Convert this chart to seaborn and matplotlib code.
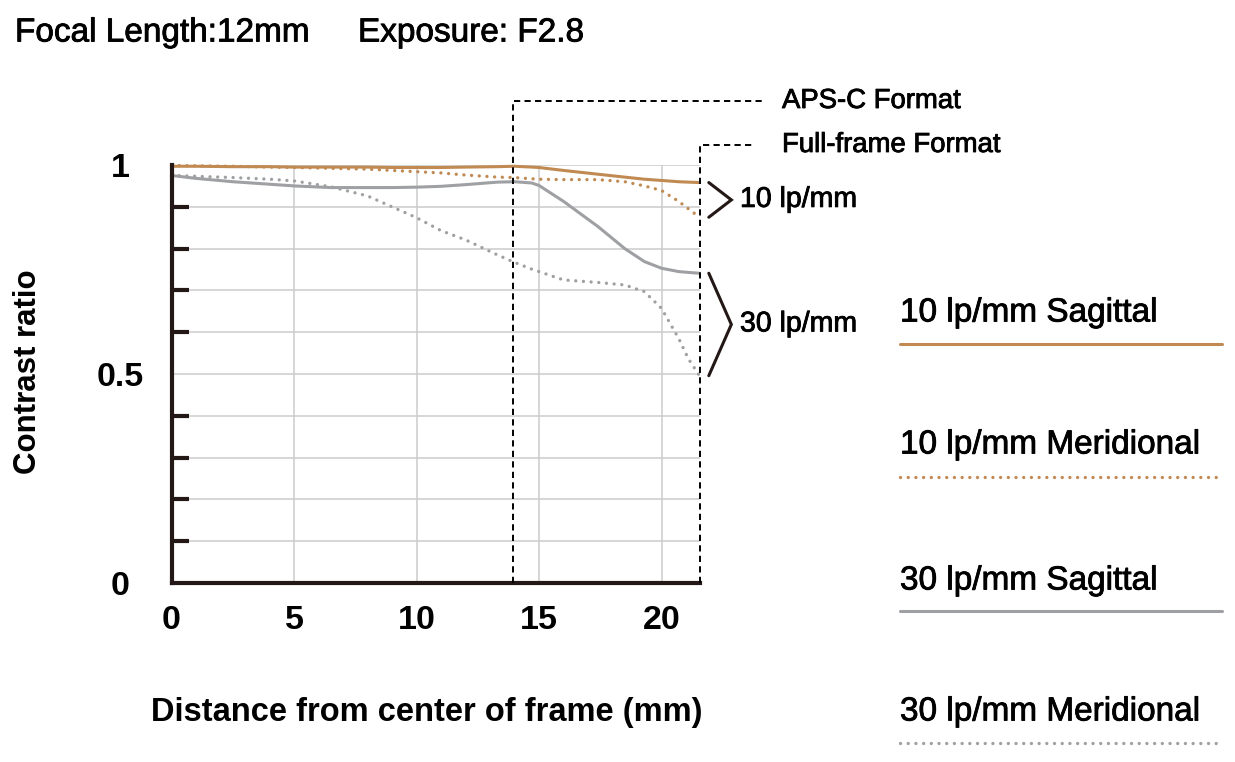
import numpy as np
import pandas as pd
import matplotlib
matplotlib.use("Agg")
import matplotlib.pyplot as plt
import matplotlib.patheffects as pe
from matplotlib.ticker import MultipleLocator
import seaborn as sns

#%% Data (distance from center in mm, contrast)
dist_mm = [0, 1, 2.5, 4, 5, 6.5, 8, 9, 10, 11, 12, 13.3, 14, 14.7, 15, 16,
           17.4, 18.5, 19.3, 20, 20.7, 21.1, 21.55]
s10 = [0.997, 0.997, 0.996, 0.996, 0.995, 0.995, 0.995, 0.994, 0.994, 0.994,
       0.995, 0.996, 0.997, 0.995, 0.994, 0.987, 0.978, 0.971, 0.966, 0.963,
       0.960, 0.959, 0.958]
m10 = [0.999, 0.998, 0.997, 0.995, 0.994, 0.992, 0.990, 0.987, 0.984, 0.981,
       0.976, 0.971, 0.970, 0.967, 0.966, 0.965, 0.965, 0.960, 0.950, 0.939,
       0.913, 0.895, 0.875]
s30 = [0.975, 0.968, 0.960, 0.954, 0.950, 0.946, 0.946, 0.946, 0.947, 0.949,
       0.953, 0.959, 0.960, 0.957, 0.951, 0.913, 0.853, 0.800, 0.769, 0.753,
       0.745, 0.743, 0.741]
m30 = [0.975, 0.973, 0.970, 0.966, 0.962, 0.948, 0.926, 0.900, 0.874, 0.843,
       0.821, 0.785, 0.767, 0.751, 0.745, 0.725, 0.719, 0.713, 0.697, 0.657,
       0.585, 0.536, 0.496]

series_names = ['10 lp/mm Sagittal', '10 lp/mm Meridional',
                '30 lp/mm Sagittal', '30 lp/mm Meridional']
x_ticks = [0, 5, 10, 15, 20]
y_ticks = [0, 0.5, 1]
y_tick_labels = ['0', '0.5', '1']
apsc_mm = 13.95
ff_mm = 21.55

#%% Styles
c_orange = '#c08a52'
c_gray = '#9fa0a3'
c_dark = '#231815'
dot = (0.01, 2.3)
medium = [pe.withStroke(linewidth=0.6, foreground='black')]

df = pd.DataFrame({
    'dist': dist_mm * 4,
    'contrast': s10 + m10 + s30 + m30,
    'freq': ['10'] * len(dist_mm) * 2 + ['30'] * len(dist_mm) * 2,
    'dir': (['Sagittal'] * len(dist_mm) + ['Meridional'] * len(dist_mm)) * 2,
})

sns.set_theme(style="white")
plt.rcParams['font.family'] = ['Liberation Sans', 'DejaVu Sans']
plt.rcParams['text.color'] = 'black'
plt.rcParams['axes.labelcolor'] = 'black'

W, H = 1235, 762
fig = plt.figure(figsize=(W / 100, H / 100), dpi=100)
ax_l, ax_r, ax_t, ax_b = 171.5, 699.5, 165, 583
ax = fig.add_axes([ax_l / W, 1 - ax_b / H, (ax_r - ax_l) / W, (ax_b - ax_t) / H])

sns.lineplot(data=df, x='dist', y='contrast', hue='freq', style='dir',
             palette={'10': c_orange, '30': c_gray},
             dashes={'Sagittal': '', 'Meridional': dot},
             lw=2.4, legend=False, errorbar=None, ax=ax, zorder=3)
for ln in ax.lines:
    ln.set_dash_capstyle('round')
    ln.set_clip_on(False)
    if ln.get_linestyle() == '-':
        ln.set_linewidth(2.2)

ax.set_xlim(0, ff_mm)
ax.set_ylim(0, 1)
ax.set_xticks(x_ticks)
ax.set_xticklabels([str(t) for t in x_ticks])
ax.set_yticks(y_ticks)
ax.set_yticklabels(y_tick_labels)
ax.yaxis.set_minor_locator(MultipleLocator(0.1))
ax.set_axisbelow(True)
ax.grid(True, which='both', axis='y', color='#cccccc', lw=1.1)
ax.grid(True, which='major', axis='x', color='#cccccc', lw=1.1)

for side in ['top', 'right']:
    ax.spines[side].set_visible(False)
for side in ['left', 'bottom']:
    ax.spines[side].set_linewidth(3)
    ax.spines[side].set_color(c_dark)
    ax.spines[side].set_zorder(4)

ax.tick_params(axis='y', which='major', direction='in', length=23, width=3,
               color=c_dark, pad=37, labelsize=24.5, labelcolor='black')
ax.tick_params(axis='y', which='minor', direction='in', length=12, width=3,
               color=c_dark, left=True)
ax.tick_params(axis='x', which='major', direction='in', length=11.5, width=3,
               color=c_dark, pad=16, labelsize=24.5, labelcolor='black')
for lab in ax.get_yticklabels():
    lab.set_ha('center')
    lab.set_fontweight('bold')
for lab in ax.get_xticklabels():
    lab.set_fontweight('bold')

ax.set_xlabel('Distance from center of frame (mm)', fontsize=23.5,
              fontweight='bold', va='center')
ax.xaxis.set_label_coords((427 - ax_l) / (ax_r - ax_l), (ax_b - 713) / (ax_b - ax_t))
ax.set_ylabel('Contrast ratio', fontsize=22.5, fontweight='bold', va='center')
ax.yaxis.set_label_coords((28 - ax_l) / (ax_r - ax_l), (ax_b - 372) / (ax_b - ax_t))

#%% Format guides
px_mm = (ax_r - ax_l) / ff_mm
px_val = ax_b - ax_t
apsc_top = 1 + (ax_t - 101) / px_val
ff_top = 1 + (ax_t - 145) / px_val
guide = dict(color='black', lw=1.4, ls=(0, (3.2, 2.2)), clip_on=False, zorder=5)
ax.plot([apsc_mm, apsc_mm, (762 - ax_l) / px_mm], [0, apsc_top, apsc_top], **guide)
ax.plot([ff_mm, ff_mm, (752 - ax_l) / px_mm], [0, ff_top, ff_top], **guide)
txt_x = (782 - ax_l) / px_mm
ax.text(txt_x, apsc_top, 'APS-C Format', fontsize=19.8, va='center', ha='left',
        path_effects=medium)
ax.text(txt_x, ff_top, 'Full-frame Format', fontsize=19.8, va='center', ha='left',
        path_effects=medium)

#%% Brackets joining the curve ends
bx0 = ff_mm + 0.38
bx1 = ff_mm + 1.3
lab_x = (740 - ax_l) / px_mm
for hi, lo, name in [(s10[-1], m10[-1], '10 lp/mm'), (s30[-1], m30[-1], '30 lp/mm')]:
    mid = (hi + lo) / 2
    ax.plot([bx0, bx1, bx0], [hi, mid, lo], color=c_dark, lw=2.2, clip_on=False,
            solid_joinstyle='miter')
    ax.text(lab_x, mid, name, fontsize=20.5, va='center', ha='left',
            path_effects=medium)

#%% Overlay in pixel coordinates: title and legend
lax = fig.add_axes([0, 0, 1, 1])
lax.set_xlim(0, W)
lax.set_ylim(H, 0)
lax.axis('off')
lax.patch.set_alpha(0)

lax.text(15, 33, 'Focal Length:12mm', fontsize=24, va='center', ha='left',
         path_effects=medium)
lax.text(358, 33, 'Exposure: F2.8', fontsize=24, va='center', ha='left',
         path_effects=medium)

leg_colors = [c_orange, c_orange, c_gray, c_gray]
leg_dashes = ['-', (0, dot), '-', (0, dot)]
leg_text_y = [313, 445, 581, 712]
leg_line_y = [344, 477, 611, 743]
for name, col, ds, ty, ly in zip(series_names, leg_colors, leg_dashes, leg_text_y, leg_line_y):
    lax.text(900, ty, name, fontsize=24, va='center', ha='left',
             path_effects=medium)
    lax.plot([900, 1222], [ly, ly], color=col, lw=2.2 if ds == '-' else 2.4,
             ls=ds, dash_capstyle='round')

fig.savefig('out.png', dpi=100)
